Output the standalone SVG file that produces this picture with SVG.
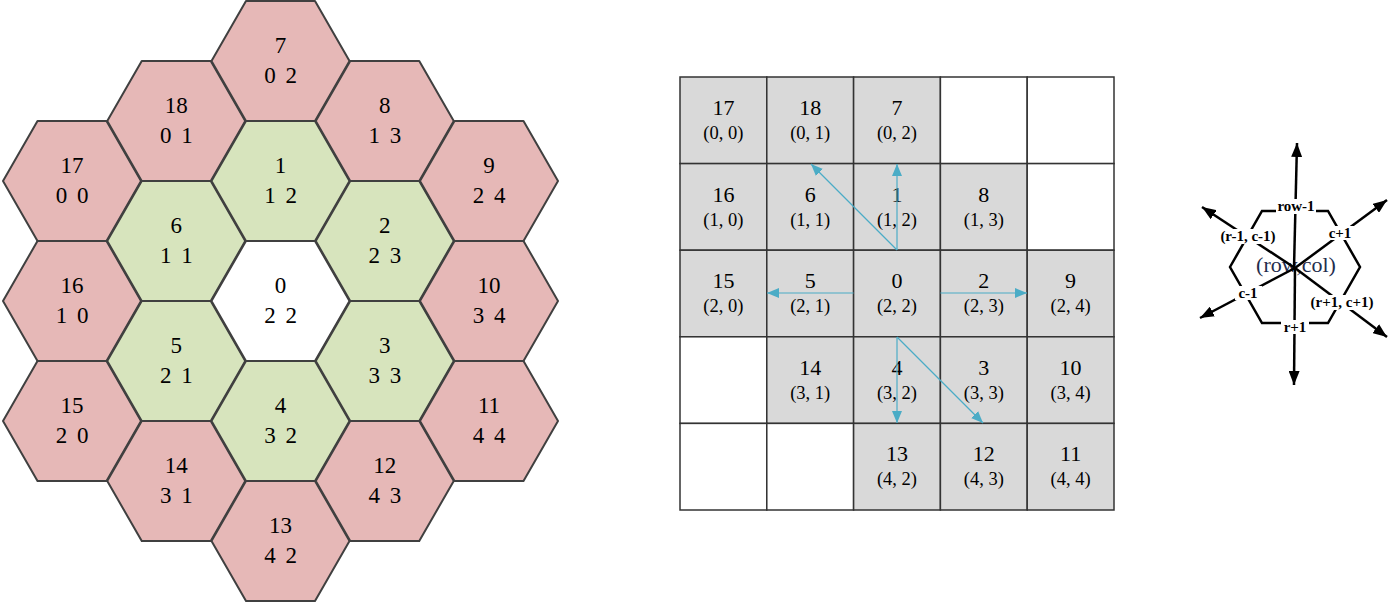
<svg xmlns="http://www.w3.org/2000/svg" xmlns:xlink="http://www.w3.org/1999/xlink" width="1389" height="602" viewBox="0 0 1389 602">
<style>
.hex{stroke:#404040;stroke-width:2;stroke-linejoin:round}
.red{fill:#e6b8b7}
.grn{fill:#d7e4bd}
.wht{fill:#ffffff}
.ht{font-family:"Liberation Serif","DejaVu Serif",serif;font-size:23px;fill:#000;text-anchor:middle;word-spacing:4px}
.cell{stroke:#333;stroke-width:1.5}
.g{fill:#d9d9d9}
.w{fill:#fff}
.cn{font-family:"Liberation Serif","DejaVu Serif",serif;font-size:22px;fill:#000;text-anchor:middle}
.cc{font-family:"Liberation Serif","DejaVu Serif",serif;font-size:18.5px;fill:#000;text-anchor:middle}
.ba{stroke:#4bacc6;stroke-width:1.2;fill:none;marker-end:url(#bh)}
.ka{stroke:#000;stroke-width:2.5;fill:none;marker-end:url(#kh)}
.lb{font-family:"Liberation Serif","DejaVu Serif",serif;font-size:15px;font-weight:bold;fill:#000;text-anchor:middle}
.lbg{fill:#fff}
</style>
<defs>
<polygon id="hx" points="-69,0 -34.5,-60 34.5,-60 69,0 34.5,60 -34.5,60"/>
<marker id="bh" markerUnits="userSpaceOnUse" markerWidth="12" markerHeight="10" refX="12" refY="5" orient="auto"><path d="M0,0 L12,5 L0,10 z" fill="#4bacc6"/></marker>
<marker id="kh" markerUnits="userSpaceOnUse" markerWidth="14" markerHeight="11" refX="14" refY="5.5" orient="auto"><path d="M0,0 L14,5.5 L0,11 z" fill="#000"/></marker>
</defs>

<!-- Hex grid -->
<g id="hex-17"><use xlink:href="#hx" x="72" y="181" class="hex red"/><text class="ht" x="72" y="173">17</text><text class="ht" x="72" y="203">0 0</text></g>
<g id="hex-16"><use xlink:href="#hx" x="72" y="301" class="hex red"/><text class="ht" x="72" y="293">16</text><text class="ht" x="72" y="323">1 0</text></g>
<g id="hex-15"><use xlink:href="#hx" x="72" y="421" class="hex red"/><text class="ht" x="72" y="413">15</text><text class="ht" x="72" y="443">2 0</text></g>

<g id="hex-18"><use xlink:href="#hx" x="176.25" y="121" class="hex red"/><text class="ht" x="176.25" y="113">18</text><text class="ht" x="176.25" y="143">0 1</text></g>
<g id="hex-6"><use xlink:href="#hx" x="176.25" y="241" class="hex grn"/><text class="ht" x="176.25" y="233">6</text><text class="ht" x="176.25" y="263">1 1</text></g>
<g id="hex-5"><use xlink:href="#hx" x="176.25" y="361" class="hex grn"/><text class="ht" x="176.25" y="353">5</text><text class="ht" x="176.25" y="383">2 1</text></g>
<g id="hex-14"><use xlink:href="#hx" x="176.25" y="481" class="hex red"/><text class="ht" x="176.25" y="473">14</text><text class="ht" x="176.25" y="503">3 1</text></g>

<g id="hex-7"><use xlink:href="#hx" x="280.5" y="61" class="hex red"/><text class="ht" x="280.5" y="53">7</text><text class="ht" x="280.5" y="83">0 2</text></g>
<g id="hex-1"><use xlink:href="#hx" x="280.5" y="181" class="hex grn"/><text class="ht" x="280.5" y="173">1</text><text class="ht" x="280.5" y="203">1 2</text></g>
<g id="hex-0"><use xlink:href="#hx" x="280.5" y="301" class="hex wht"/><text class="ht" x="280.5" y="293">0</text><text class="ht" x="280.5" y="323">2 2</text></g>
<g id="hex-4"><use xlink:href="#hx" x="280.5" y="421" class="hex grn"/><text class="ht" x="280.5" y="413">4</text><text class="ht" x="280.5" y="443">3 2</text></g>
<g id="hex-13"><use xlink:href="#hx" x="280.5" y="541" class="hex red"/><text class="ht" x="280.5" y="533">13</text><text class="ht" x="280.5" y="563">4 2</text></g>

<g id="hex-8"><use xlink:href="#hx" x="384.75" y="121" class="hex red"/><text class="ht" x="384.75" y="113">8</text><text class="ht" x="384.75" y="143">1 3</text></g>
<g id="hex-2"><use xlink:href="#hx" x="384.75" y="241" class="hex grn"/><text class="ht" x="384.75" y="233">2</text><text class="ht" x="384.75" y="263">2 3</text></g>
<g id="hex-3"><use xlink:href="#hx" x="384.75" y="361" class="hex grn"/><text class="ht" x="384.75" y="353">3</text><text class="ht" x="384.75" y="383">3 3</text></g>
<g id="hex-12"><use xlink:href="#hx" x="384.75" y="481" class="hex red"/><text class="ht" x="384.75" y="473">12</text><text class="ht" x="384.75" y="503">4 3</text></g>

<g id="hex-9"><use xlink:href="#hx" x="489" y="181" class="hex red"/><text class="ht" x="489" y="173">9</text><text class="ht" x="489" y="203">2 4</text></g>
<g id="hex-10"><use xlink:href="#hx" x="489" y="301" class="hex red"/><text class="ht" x="489" y="293">10</text><text class="ht" x="489" y="323">3 4</text></g>
<g id="hex-11"><use xlink:href="#hx" x="489" y="421" class="hex red"/><text class="ht" x="489" y="413">11</text><text class="ht" x="489" y="443">4 4</text></g>

<!-- Square grid -->
<g id="cell-0-0"><rect class="cell g" x="680" y="77" width="86.8" height="86.6"/><text class="cn" x="723.4" y="115">17</text><text class="cc" x="723.4" y="139">(0, 0)</text></g>
<g id="cell-0-1"><rect class="cell g" x="766.8" y="77" width="86.8" height="86.6"/><text class="cn" x="810.2" y="115">18</text><text class="cc" x="810.2" y="139">(0, 1)</text></g>
<g id="cell-0-2"><rect class="cell g" x="853.6" y="77" width="86.8" height="86.6"/><text class="cn" x="897" y="115">7</text><text class="cc" x="897" y="139">(0, 2)</text></g>
<g id="cell-0-3"><rect class="cell w" x="940.4" y="77" width="86.8" height="86.6"/></g>
<g id="cell-0-4"><rect class="cell w" x="1027.2" y="77" width="86.8" height="86.6"/></g>

<g id="cell-1-0"><rect class="cell g" x="680" y="163.6" width="86.8" height="86.6"/><text class="cn" x="723.4" y="201.6">16</text><text class="cc" x="723.4" y="225.6">(1, 0)</text></g>
<g id="cell-1-1"><rect class="cell g" x="766.8" y="163.6" width="86.8" height="86.6"/><text class="cn" x="810.2" y="201.6">6</text><text class="cc" x="810.2" y="225.6">(1, 1)</text></g>
<g id="cell-1-2"><rect class="cell g" x="853.6" y="163.6" width="86.8" height="86.6"/><text class="cn" x="897" y="201.6">1</text><text class="cc" x="897" y="225.6">(1, 2)</text></g>
<g id="cell-1-3"><rect class="cell g" x="940.4" y="163.6" width="86.8" height="86.6"/><text class="cn" x="983.8" y="201.6">8</text><text class="cc" x="983.8" y="225.6">(1, 3)</text></g>
<g id="cell-1-4"><rect class="cell w" x="1027.2" y="163.6" width="86.8" height="86.6"/></g>

<g id="cell-2-0"><rect class="cell g" x="680" y="250.2" width="86.8" height="86.6"/><text class="cn" x="723.4" y="288.2">15</text><text class="cc" x="723.4" y="312.2">(2, 0)</text></g>
<g id="cell-2-1"><rect class="cell g" x="766.8" y="250.2" width="86.8" height="86.6"/><text class="cn" x="810.2" y="288.2">5</text><text class="cc" x="810.2" y="312.2">(2, 1)</text></g>
<g id="cell-2-2"><rect class="cell g" x="853.6" y="250.2" width="86.8" height="86.6"/><text class="cn" x="897" y="288.2">0</text><text class="cc" x="897" y="312.2">(2, 2)</text></g>
<g id="cell-2-3"><rect class="cell g" x="940.4" y="250.2" width="86.8" height="86.6"/><text class="cn" x="983.8" y="288.2">2</text><text class="cc" x="983.8" y="312.2">(2, 3)</text></g>
<g id="cell-2-4"><rect class="cell g" x="1027.2" y="250.2" width="86.8" height="86.6"/><text class="cn" x="1070.6" y="288.2">9</text><text class="cc" x="1070.6" y="312.2">(2, 4)</text></g>

<g id="cell-3-0"><rect class="cell w" x="680" y="336.8" width="86.8" height="86.6"/></g>
<g id="cell-3-1"><rect class="cell g" x="766.8" y="336.8" width="86.8" height="86.6"/><text class="cn" x="810.2" y="374.8">14</text><text class="cc" x="810.2" y="398.8">(3, 1)</text></g>
<g id="cell-3-2"><rect class="cell g" x="853.6" y="336.8" width="86.8" height="86.6"/><text class="cn" x="897" y="374.8">4</text><text class="cc" x="897" y="398.8">(3, 2)</text></g>
<g id="cell-3-3"><rect class="cell g" x="940.4" y="336.8" width="86.8" height="86.6"/><text class="cn" x="983.8" y="374.8">3</text><text class="cc" x="983.8" y="398.8">(3, 3)</text></g>
<g id="cell-3-4"><rect class="cell g" x="1027.2" y="336.8" width="86.8" height="86.6"/><text class="cn" x="1070.6" y="374.8">10</text><text class="cc" x="1070.6" y="398.8">(3, 4)</text></g>

<g id="cell-4-0"><rect class="cell w" x="680" y="423.4" width="86.8" height="86.6"/></g>
<g id="cell-4-1"><rect class="cell w" x="766.8" y="423.4" width="86.8" height="86.6"/></g>
<g id="cell-4-2"><rect class="cell g" x="853.6" y="423.4" width="86.8" height="86.6"/><text class="cn" x="897" y="461.4">13</text><text class="cc" x="897" y="485.4">(4, 2)</text></g>
<g id="cell-4-3"><rect class="cell g" x="940.4" y="423.4" width="86.8" height="86.6"/><text class="cn" x="983.8" y="461.4">12</text><text class="cc" x="983.8" y="485.4">(4, 3)</text></g>
<g id="cell-4-4"><rect class="cell g" x="1027.2" y="423.4" width="86.8" height="86.6"/><text class="cn" x="1070.6" y="461.4">11</text><text class="cc" x="1070.6" y="485.4">(4, 4)</text></g>

<!-- Grid connectors -->
<g id="grid-connectors">
<line class="ba" x1="897" y1="250" x2="897" y2="164"/>
<line class="ba" x1="897" y1="250" x2="811" y2="164"/>
<line class="ba" x1="940.4" y1="293" x2="1027" y2="293"/>
<line class="ba" x1="853.6" y1="293" x2="767" y2="293"/>
<line class="ba" x1="897" y1="337" x2="897" y2="423"/>
<line class="ba" x1="897" y1="337" x2="983" y2="423"/>
</g>

<!-- Direction legend -->
<g id="legend-hex">
<polygon points="1230,267 1262,211 1328,211 1360,267 1328,323 1262,323" fill="none" stroke="#000" stroke-width="2.5"/>
<text x="1296" y="272" font-family="Liberation Serif, DejaVu Serif, serif" font-size="22" fill="#1f2d4d" text-anchor="middle">(row,col)</text>
</g>
<g id="legend-connectors">
<line class="ka" x1="1294" y1="268" x2="1297" y2="143"/>
<line class="ka" x1="1295" y1="268" x2="1294" y2="385"/>
<line class="ka" x1="1295" y1="268" x2="1202" y2="207"/>
<line class="ka" x1="1295" y1="268" x2="1387" y2="200"/>
<line class="ka" x1="1295" y1="268" x2="1200" y2="318"/>
<line class="ka" x1="1295" y1="268" x2="1387" y2="337"/>
</g>
<g id="legend-labels">
<rect class="lbg" x="1276" y="199" width="40" height="15"/><text class="lb" x="1296" y="211">row-1</text>
<rect class="lbg" x="1216" y="229" width="64" height="15"/><text class="lb" x="1248" y="241">(r-1, c-1)</text>
<rect class="lbg" x="1326" y="226" width="28" height="14"/><text class="lb" x="1340" y="237.5">c+1</text>
<rect class="lbg" x="1235" y="286" width="27" height="14"/><text class="lb" x="1248" y="297.5">c-1</text>
<rect class="lbg" x="1310" y="295" width="64" height="15"/><text class="lb" x="1342" y="306.5">(r+1, c+1)</text>
<rect class="lbg" x="1281" y="320" width="28" height="14"/><text class="lb" x="1295" y="331.5">r+1</text>
</g>
</svg>
